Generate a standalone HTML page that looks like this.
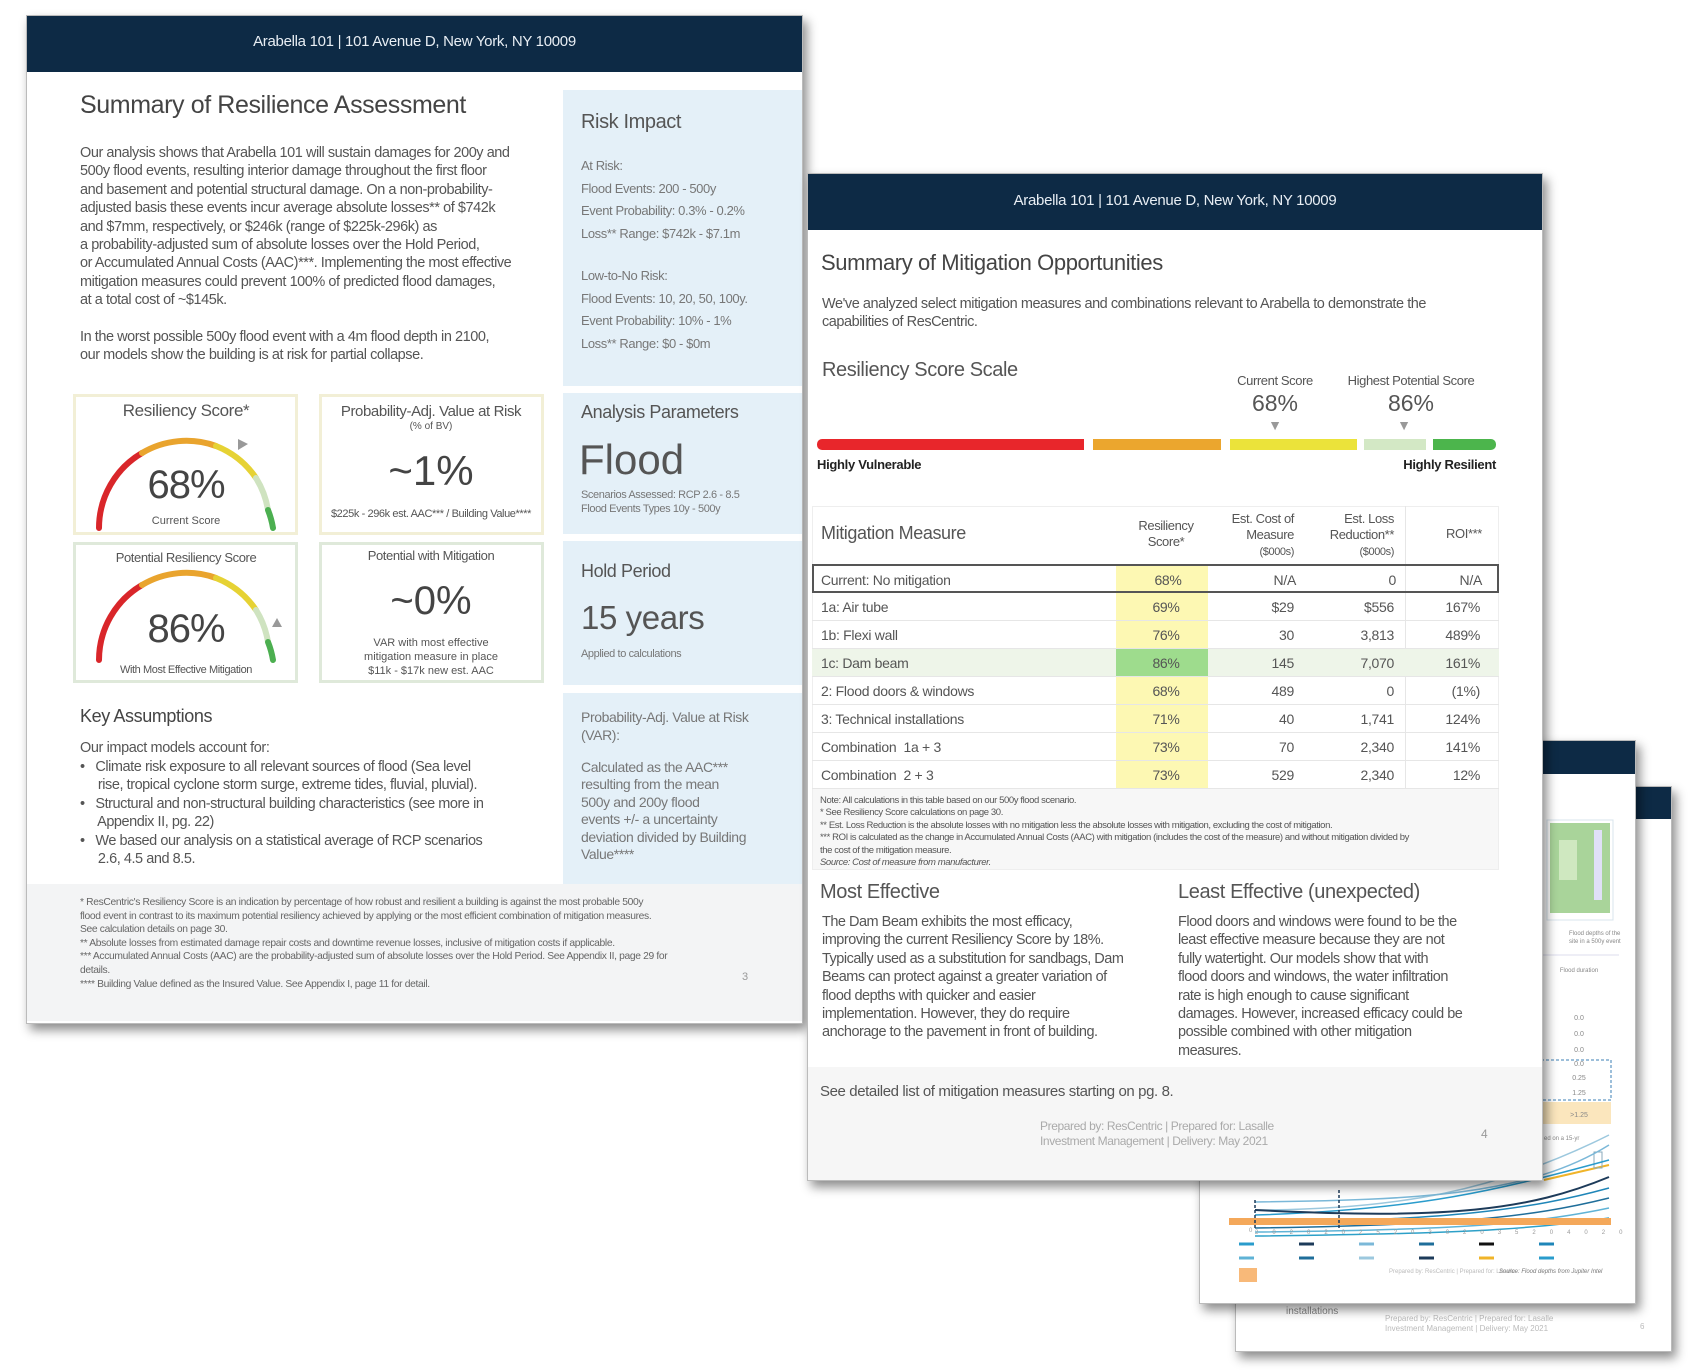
<!DOCTYPE html>
<html><head><meta charset="utf-8"><style>
*{margin:0;padding:0;box-sizing:border-box}
body{width:1690px;height:1372px;background:#fff;position:relative;overflow:hidden;font-family:"Liberation Sans",sans-serif;color:#555}
.a{position:absolute;white-space:nowrap}
.page{position:absolute;background:#fff;box-shadow:4px 6px 10px rgba(0,0,0,.45);border:1px solid #bbb}
.hdr{position:absolute;background:#0d2a45;color:#e8eef4;font-size:15px;text-align:center;letter-spacing:-.3px}
.t{letter-spacing:-.4px}
.panel{position:absolute;background:#e4f0f8}
.box{position:absolute;background:#fff}
.c{text-align:center;transform:translateX(-50%)}
.r{transform:translateX(-100%)}
.row{position:absolute;left:812px;width:687px;height:28px;border-bottom:1px solid #e6e6e6}
.cell{position:absolute;font-size:14px;top:6px;letter-spacing:-.3px}
</style></head><body>

<!-- back page 4 -->
<div class="page" style="left:1235px;top:786px;width:437px;height:566px"></div>
<div class="hdr" style="left:1236px;top:787px;width:435px;height:32px"></div>
<div class="a" style="left:1286px;top:1306px;font-size:10px;color:#888">installations</div>
<div class="a" style="left:1385px;top:1314px;font-size:8px;color:#bbb;line-height:10px">Prepared by: ResCentric | Prepared for: Lasalle<br>Investment Management | Delivery: May 2021</div>
<div class="a" style="left:1640px;top:1322px;font-size:8px;color:#bbb">6</div>

<!-- back page 3 -->
<div class="page" style="left:1199px;top:740px;width:437px;height:564px"></div>
<div class="hdr" style="left:1200px;top:741px;width:435px;height:33px"></div>
<svg class="a" style="left:1199px;top:740px" width="437" height="564">
<rect x="348" y="80" width="66" height="100" fill="#fff" stroke="#d8e4ee"/>
<rect x="351" y="83" width="60" height="90" fill="#a9d49a"/>
<rect x="360" y="100" width="18" height="40" fill="#cfe8c0"/>
<rect x="395" y="90" width="8" height="70" fill="#e0e0f8"/>
<text x="370" y="195" font-size="6" fill="#888">Flood depths of the</text>
<text x="370" y="203" font-size="6" fill="#888">site in a 500y event</text>
<line x1="340" y1="215" x2="420" y2="215" stroke="#dde"/>
<text x="380" y="232" font-size="6" fill="#888" text-anchor="middle">Flood duration</text>
<text x="380" y="280" font-size="7" fill="#888" text-anchor="middle">0.0</text>
<text x="380" y="296" font-size="7" fill="#888" text-anchor="middle">0.0</text>
<text x="380" y="312" font-size="7" fill="#888" text-anchor="middle">0.0</text>
<text x="380" y="326" font-size="7" fill="#888" text-anchor="middle">0.0</text>
<rect x="342" y="320" width="70" height="40" fill="none" stroke="#3b7fb5" stroke-dasharray="3,2"/>
<text x="380" y="340" font-size="7" fill="#888" text-anchor="middle">0.25</text>
<text x="380" y="355" font-size="7" fill="#888" text-anchor="middle">1.25</text>
<rect x="342" y="362" width="70" height="22" fill="#fbe6bd"/>
<text x="380" y="377" font-size="7" fill="#888" text-anchor="middle">&gt;1.25</text>
<text x="345" y="400" font-size="6" fill="#888">ed on a 15-yr</text>
<line x1="345" y1="440" x2="410" y2="425" stroke="#f0b429" stroke-width="2"/>
<rect x="395" y="412" width="8" height="16" fill="none" stroke="#8ab"/>
<g fill="none" stroke-width="1.5">
<path d="M56 470 C200 470 300 450 410 395" stroke="#9cc8de"/>
<path d="M56 475 C220 470 300 450 410 420" stroke="#2a9ccc"/>
<path d="M56 462 C220 460 330 455 410 405" stroke="#7bb8d8"/>
<path d="M56 470 C250 480 330 470 410 437" stroke="#1d3b5a" stroke-width="2"/>
<path d="M56 483 C250 480 330 470 410 448" stroke="#1f86b8"/>
<path d="M56 488 C250 485 330 478 410 458" stroke="#1f6e9a"/>
<path d="M56 492 C250 490 330 485 410 468" stroke="#5fb3d6"/>
<path d="M56 496 C250 494 330 490 410 478" stroke="#2da0c8"/>
<rect x="30" y="478" width="382" height="7" fill="#f4a85a"/>
<line x1="56" y1="460" x2="56" y2="490" stroke="#1d3b5a" stroke-dasharray="3,2"/>
<line x1="140" y1="450" x2="140" y2="490" stroke="#1d3b5a" stroke-dasharray="3,2"/>
</g>
<text x="50" y="492" font-size="6" fill="#999">0</text>
<text x="56" y="494" font-size="6" fill="#999" letter-spacing="14">2020202520302035204020452050205520602065207020752080</text>
<g stroke-width="3">
<line x1="40" y1="504" x2="55" y2="504" stroke="#2a9ccc"/><line x1="100" y1="504" x2="115" y2="504" stroke="#1d3b5a"/><line x1="160" y1="504" x2="175" y2="504" stroke="#7bb8d8"/><line x1="220" y1="504" x2="235" y2="504" stroke="#1f6e9a"/><line x1="280" y1="504" x2="295" y2="504" stroke="#111"/><line x1="340" y1="504" x2="355" y2="504" stroke="#1f86b8"/>
<line x1="40" y1="518" x2="55" y2="518" stroke="#5fb3d6"/><line x1="100" y1="518" x2="115" y2="518" stroke="#1f6e9a"/><line x1="160" y1="518" x2="175" y2="518" stroke="#9cc8de"/><line x1="220" y1="518" x2="235" y2="518" stroke="#1d3b5a"/><line x1="280" y1="518" x2="295" y2="518" stroke="#f0b429"/><line x1="340" y1="518" x2="355" y2="518" stroke="#2a9ccc"/>
</g>
<rect x="40" y="528" width="18" height="14" fill="#f8b979"/>
<text x="190" y="533" font-size="6" fill="#bbb">Prepared by: ResCentric | Prepared for: Lasalle</text>
<text x="300" y="533" font-size="6" fill="#777" font-style="italic">Source: Flood depths from Jupiter Intel</text>
</svg>

<!-- PAGE 1 -->
<div class="page" style="left:26px;top:15px;width:777px;height:1009px"></div>
<div class="hdr" style="left:27px;top:16px;width:775px;height:56px;line-height:52px">Arabella 101 | 101 Avenue D, New York, NY 10009</div>
<div class="a t" style="left:80px;top:91px;font-size:25px;color:#444">Summary of Resilience Assessment</div>
<div class="a t" style="left:80px;top:144px;font-size:14.5px;line-height:18.4px;letter-spacing:-.45px">Our analysis shows that Arabella 101 will sustain damages for 200y and<br>500y flood events, resulting interior damage throughout the first floor<br>and basement and potential structural damage. On a non-probability-<br>adjusted basis these events incur average absolute losses** of $742k<br>and $7mm, respectively, or $246k (range of $225k-296k) as<br>a probability-adjusted sum of absolute losses over the Hold Period,<br>or Accumulated Annual Costs (AAC)***. Implementing the most effective<br>mitigation measures could prevent 100% of predicted flood damages,<br>at a total cost of ~$145k.</div>
<div class="a t" style="left:80px;top:328px;font-size:14.5px;line-height:18.4px;letter-spacing:-.45px">In the worst possible 500y flood event with a 4m flood depth in 2100,<br>our models show the building is at risk for partial collapse.</div>

<!-- gauges boxes -->
<div class="box" style="left:73px;top:394px;width:225px;height:141px;border:3px solid #f2efd6"></div>
<div class="box" style="left:319px;top:394px;width:225px;height:141px;border:3px solid #f2efd6"></div>
<div class="box" style="left:73px;top:542px;width:225px;height:141px;border:3px solid #dfe9da"></div>
<div class="box" style="left:319px;top:542px;width:225px;height:141px;border:3px solid #dfe9da"></div>
<svg class="a" style="left:0;top:0" width="560" height="700">
<g fill="none" stroke-width="6" stroke-linecap="round">
<path d="M99 528 A87 87 0 0 1 142 453" stroke="#d9262a"/>
<path d="M142 453 A87 87 0 0 1 216 446" stroke="#e9a42e"/>
<path d="M216 446 A87 87 0 0 1 256 478" stroke="#e6d234"/>
<path d="M256 478 A87 87 0 0 1 268 510" stroke="#cfe3c0"/>
<path d="M268 510 A87 87 0 0 1 273 528" stroke="#4caf50"/>
<path d="M99 660 A87 87 0 0 1 142 585" stroke="#d9262a"/>
<path d="M142 585 A87 87 0 0 1 216 578" stroke="#e9a42e"/>
<path d="M216 578 A87 87 0 0 1 256 610" stroke="#e6d234"/>
<path d="M256 610 A87 87 0 0 1 268 642" stroke="#cfe3c0"/>
<path d="M268 642 A87 87 0 0 1 273 660" stroke="#4caf50"/>
</g>
<polygon points="238,439 248,444 238,450" fill="#999"/>
<polygon points="272,627 277,618 282,627" fill="#999"/>
</svg>
<div class="a c t" style="left:186px;top:401px;font-size:17px">Resiliency Score*</div>
<div class="a c" style="left:186px;top:463px;font-size:40px;color:#444;letter-spacing:-1px">68%</div>
<div class="a c" style="left:186px;top:515px;font-size:11px">Current Score</div>
<div class="a c t" style="left:431px;top:403px;font-size:15px">Probability-Adj. Value at Risk</div>
<div class="a c" style="left:431px;top:421px;font-size:10px">(% of BV)</div>
<div class="a c" style="left:431px;top:447px;font-size:42px;color:#444">~1%</div>
<div class="a c t" style="left:431px;top:508px;font-size:11px">$225k - 296k est. AAC*** / Building Value****</div>
<div class="a c t" style="left:186px;top:550px;font-size:13px">Potential Resiliency Score</div>
<div class="a c" style="left:186px;top:607px;font-size:40px;color:#444;letter-spacing:-1px">86%</div>
<div class="a c t" style="left:186px;top:664px;font-size:11px">With Most Effective Mitigation</div>
<div class="a c t" style="left:431px;top:548px;font-size:13px">Potential with Mitigation</div>
<div class="a c" style="left:431px;top:579px;font-size:40px;color:#444">~0%</div>
<div class="a c" style="left:431px;top:636px;font-size:11px;line-height:14px">VAR with most effective<br>mitigation measure in place<br>$11k - $17k new est. AAC</div>

<div class="a t" style="left:80px;top:706px;font-size:18px;color:#444">Key Assumptions</div>
<div class="a t" style="left:80px;top:740px;font-size:14.5px">Our impact models account for:</div>
<div class="a t" style="left:80px;top:758px;font-size:14.5px;line-height:18.4px;letter-spacing:-.45px">•&nbsp;&nbsp; Climate risk exposure to all relevant sources of flood (Sea level<br>&nbsp;&nbsp;&nbsp;&nbsp; rise, tropical cyclone storm surge, extreme tides, fluvial, pluvial).<br>•&nbsp;&nbsp; Structural and non-structural building characteristics (see more in<br>&nbsp;&nbsp;&nbsp;&nbsp; Appendix II, pg. 22)<br>•&nbsp;&nbsp; We based our analysis on a statistical average of RCP scenarios<br>&nbsp;&nbsp;&nbsp;&nbsp; 2.6, 4.5 and 8.5.</div>

<!-- sidebar -->
<div class="panel" style="left:563px;top:90px;width:239px;height:296px"></div>
<div class="panel" style="left:563px;top:393px;width:239px;height:141px"></div>
<div class="panel" style="left:563px;top:541px;width:239px;height:144px"></div>
<div class="panel" style="left:563px;top:693px;width:239px;height:191px"></div>
<div class="a t" style="left:581px;top:111px;font-size:20px">Risk Impact</div>
<div class="a t" style="left:581px;top:155px;font-size:13px;line-height:22.6px;color:#777">At Risk:<br>Flood Events: 200 - 500y<br>Event Probability: 0.3% - 0.2%<br>Loss** Range: $742k - $7.1m</div>
<div class="a t" style="left:581px;top:265px;font-size:13px;line-height:22.6px;color:#777">Low-to-No Risk:<br>Flood Events: 10, 20, 50, 100y.<br>Event Probability: 10% - 1%<br>Loss** Range: $0 - $0m</div>
<div class="a t" style="left:581px;top:402px;font-size:18px">Analysis Parameters</div>
<div class="a" style="left:579px;top:436px;font-size:42px;color:#555">Flood</div>
<div class="a t" style="left:581px;top:488px;font-size:11px;line-height:14px;color:#777">Scenarios Assessed: RCP 2.6 - 8.5<br>Flood Events Types 10y - 500y</div>
<div class="a t" style="left:581px;top:561px;font-size:18px">Hold Period</div>
<div class="a t" style="left:581px;top:599px;font-size:33px">15 years</div>
<div class="a t" style="left:581px;top:648px;font-size:11px;color:#777">Applied to calculations</div>
<div class="a t" style="left:581px;top:709px;font-size:14px;line-height:17.5px;color:#777">Probability-Adj. Value at Risk<br>(VAR):</div>
<div class="a t" style="left:581px;top:759px;font-size:14px;line-height:17.4px;color:#777">Calculated as the AAC***<br>resulting from the mean<br>500y and 200y flood<br>events +/- a uncertainty<br>deviation divided by Building<br>Value****</div>

<div class="a" style="left:27px;top:884px;width:775px;height:137px;background:#f3f4f5"></div>
<div class="a" style="left:80px;top:896px;font-size:10.3px;line-height:13.6px;letter-spacing:-.35px;color:#666">* ResCentric's Resiliency Score is an indication by percentage of how robust and resilient a building is against the most probable 500y<br>flood event in contrast to its maximum potential resiliency achieved by applying or the most efficient combination of mitigation measures.<br>See calculation details on page 30.<br>** Absolute losses from estimated damage repair costs and downtime revenue losses, inclusive of mitigation costs if applicable.<br>*** Accumulated Annual Costs (AAC) are the probability-adjusted sum of absolute losses over the Hold Period. See Appendix II, page 29 for<br>details.<br>**** Building Value defined as the Insured Value. See Appendix I, page 11 for detail.</div>
<div class="a" style="left:742px;top:971px;font-size:11px;color:#999">3</div>

<!-- PAGE 2 -->
<div class="page" style="left:807px;top:173px;width:736px;height:1008px"></div>
<div class="hdr" style="left:808px;top:174px;width:734px;height:56px;line-height:54px">Arabella 101 | 101 Avenue D, New York, NY 10009</div>
<div class="a t" style="left:821px;top:250px;font-size:22px;color:#444">Summary of Mitigation Opportunities</div>
<div class="a t" style="left:822px;top:295px;font-size:14.5px;line-height:18px;letter-spacing:-.45px">We've analyzed select mitigation measures and combinations relevant to Arabella to demonstrate the<br>capabilities of ResCentric.</div>
<div class="a t" style="left:822px;top:359px;font-size:20px">Resiliency Score Scale</div>
<div class="a c t" style="left:1275px;top:373px;font-size:13px">Current Score</div>
<div class="a c" style="left:1275px;top:390px;font-size:23px">68%</div>
<div class="a c" style="left:1275px;top:417px;font-size:14px;color:#999">▼</div>
<div class="a c t" style="left:1411px;top:373px;font-size:13px">Highest Potential Score</div>
<div class="a c" style="left:1411px;top:390px;font-size:23px">86%</div>
<div class="a c" style="left:1404px;top:417px;font-size:14px;color:#999">▼</div>
<div class="a" style="left:817px;top:439px;width:267px;height:11px;background:#e8262b;border-radius:5px 0 0 5px"></div>
<div class="a" style="left:1093px;top:439px;width:128px;height:11px;background:#eba62e"></div>
<div class="a" style="left:1230px;top:439px;width:127px;height:11px;background:#ebe33a"></div>
<div class="a" style="left:1364px;top:439px;width:62px;height:11px;background:#d3e8c5"></div>
<div class="a" style="left:1433px;top:439px;width:63px;height:11px;background:#4cb54c;border-radius:0 5px 5px 0"></div>
<div class="a" style="left:817px;top:457px;font-size:13px;font-weight:bold;color:#222;letter-spacing:-.3px">Highly Vulnerable</div>
<div class="a r" style="left:1496px;top:457px;font-size:13px;font-weight:bold;color:#222;letter-spacing:-.3px">Highly Resilient</div>

<div class="a" style="left:812px;top:506px;width:687px;height:364px;border:1px solid #eee;background:#fff"></div>
<div class="a" style="left:1116px;top:564px;width:92px;height:225px;background:#fdf8b3"></div>
<div class="a" style="left:1405px;top:506px;width:1px;height:283px;background:#e6e6e6"></div>
<div class="a t" style="left:821px;top:523px;font-size:18px">Mitigation Measure</div>
<div class="a c t" style="left:1166px;top:518px;font-size:13px;line-height:16px;text-align:center">Resiliency<br>Score*</div>
<div class="a r t" style="left:1294px;top:511px;font-size:13px;line-height:16px;text-align:right">Est. Cost of<br>Measure<br><span style="font-size:11px">($000s)</span></div>
<div class="a r t" style="left:1394px;top:511px;font-size:13px;line-height:16px;text-align:right">Est. Loss<br>Reduction**<br><span style="font-size:11px">($000s)</span></div>
<div class="a c t" style="left:1464px;top:526px;font-size:13px">ROI***</div>

<div class="row" style="top:564px;height:29px;border:2px solid #555"><span class="cell" style="left:7px">Current: No mitigation</span><span class="cell c" style="left:354px">68%</span><span class="cell r" style="left:482px">N/A</span><span class="cell r" style="left:582px">0</span><span class="cell r" style="left:668px">N/A</span></div>
<div class="row" style="top:593px"><span class="cell" style="left:9px">1a: Air tube</span><span class="cell c" style="left:354px">69%</span><span class="cell r" style="left:482px">$29</span><span class="cell r" style="left:582px">$556</span><span class="cell r" style="left:668px">167%</span></div>
<div class="row" style="top:621px"><span class="cell" style="left:9px">1b: Flexi wall</span><span class="cell c" style="left:354px">76%</span><span class="cell r" style="left:482px">30</span><span class="cell r" style="left:582px">3,813</span><span class="cell r" style="left:668px">489%</span></div>
<div class="row" style="top:649px;background:#eef5e9"><span class="a" style="left:304px;top:0;width:92px;height:27px;background:#9edc8d"></span><span class="cell" style="left:9px">1c: Dam beam</span><span class="cell c" style="left:354px">86%</span><span class="cell r" style="left:482px">145</span><span class="cell r" style="left:582px">7,070</span><span class="cell r" style="left:668px">161%</span></div>
<div class="row" style="top:677px"><span class="cell" style="left:9px">2: Flood doors &amp; windows</span><span class="cell c" style="left:354px">68%</span><span class="cell r" style="left:482px">489</span><span class="cell r" style="left:582px">0</span><span class="cell r" style="left:668px">(1%)</span></div>
<div class="row" style="top:705px"><span class="cell" style="left:9px">3: Technical installations</span><span class="cell c" style="left:354px">71%</span><span class="cell r" style="left:482px">40</span><span class="cell r" style="left:582px">1,741</span><span class="cell r" style="left:668px">124%</span></div>
<div class="row" style="top:733px"><span class="cell" style="left:9px">Combination&nbsp; 1a + 3</span><span class="cell c" style="left:354px">73%</span><span class="cell r" style="left:482px">70</span><span class="cell r" style="left:582px">2,340</span><span class="cell r" style="left:668px">141%</span></div>
<div class="row" style="top:761px"><span class="cell" style="left:9px">Combination&nbsp; 2 + 3</span><span class="cell c" style="left:354px">73%</span><span class="cell r" style="left:482px">529</span><span class="cell r" style="left:582px">2,340</span><span class="cell r" style="left:668px">12%</span></div>
<div class="a" style="left:813px;top:789px;width:685px;height:80px;background:#f7f7f7"></div>
<div class="a" style="left:820px;top:795px;font-size:9.5px;line-height:12.4px;letter-spacing:-.4px;color:#555">Note: All calculations in this table based on our 500y flood scenario.<br>* See Resiliency Score calculations on page 30.<br>** Est. Loss Reduction is the absolute losses with no mitigation less the absolute losses with mitigation, excluding the cost of mitigation.<br>*** ROI is calculated as the change in Accumulated Annual Costs (AAC) with mitigation (includes the cost of the measure) and without mitigation divided by<br>the cost of the mitigation measure.<br><i>Source: Cost of measure from manufacturer.</i></div>

<div class="a t" style="left:820px;top:881px;font-size:20px">Most Effective</div>
<div class="a t" style="left:822px;top:913px;font-size:14.5px;line-height:18.4px;letter-spacing:-.5px">The Dam Beam exhibits the most efficacy,<br>improving the current Resiliency Score by 18%.<br>Typically used as a substitution for sandbags, Dam<br>Beams can protect against a greater variation of<br>flood depths with quicker and easier<br>implementation. However, they do require<br>anchorage to the pavement in front of building.</div>
<div class="a t" style="left:1178px;top:881px;font-size:20px">Least Effective (unexpected)</div>
<div class="a t" style="left:1178px;top:913px;font-size:14.5px;line-height:18.4px;letter-spacing:-.5px">Flood doors and windows were found to be the<br>least effective measure because they are not<br>fully watertight. Our models show that with<br>flood doors and windows, the water infiltration<br>rate is high enough to cause significant<br>damages. However, increased efficacy could be<br>possible combined with other mitigation<br>measures.</div>
<div class="a" style="left:808px;top:1067px;width:734px;height:113px;background:#f6f6f6"></div>
<div class="a t" style="left:820px;top:1083px;font-size:15px">See detailed list of mitigation measures starting on pg. 8.</div>
<div class="a t" style="left:1040px;top:1119px;font-size:12px;line-height:14.5px;color:#aaa">Prepared by: ResCentric | Prepared for: Lasalle<br>Investment Management | Delivery: May 2021</div>
<div class="a" style="left:1481px;top:1127px;font-size:12px;color:#999">4</div>
</body></html>
